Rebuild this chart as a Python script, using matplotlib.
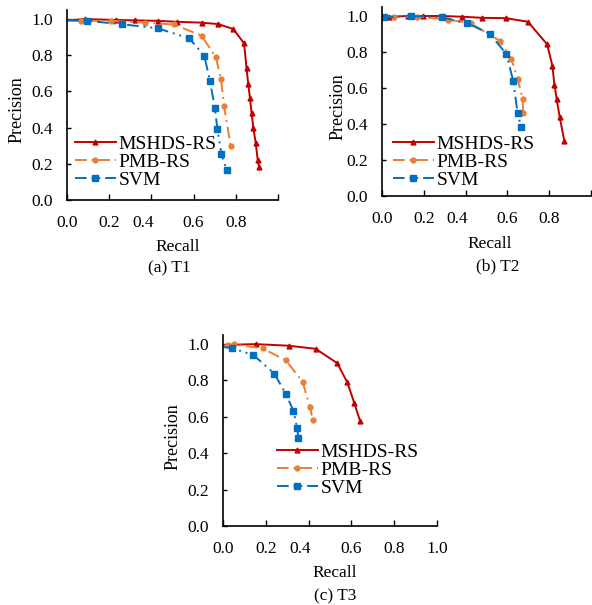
import numpy as np
import matplotlib
matplotlib.use('Agg')
import matplotlib.pyplot as plt
import matplotlib.transforms as mtransforms

plt.rcParams['font.family'] = ['Liberation Serif', 'DejaVu Serif']

W, H = 592, 605

# ---- data (recall, precision) ----
# (a) T1
t1_mshds_r = [0.0, 0.085, 0.23, 0.32, 0.43, 0.52, 0.638, 0.717, 0.788, 0.839, 0.851, 0.859, 0.867, 0.875, 0.883, 0.894, 0.904, 0.910]
t1_mshds_p = [0.993, 1.0, 0.995, 0.993, 0.99, 0.985, 0.98, 0.972, 0.945, 0.866, 0.728, 0.639, 0.565, 0.479, 0.40, 0.317, 0.221, 0.184]
t1_pmb_r = [0.0, 0.066, 0.21, 0.37, 0.507, 0.638, 0.706, 0.730, 0.744, 0.776]
t1_pmb_p = [0.99, 0.99, 0.99, 0.98, 0.97, 0.908, 0.788, 0.667, 0.519, 0.298]
t1_svm_r = [0.0, 0.096, 0.262, 0.43, 0.58, 0.651, 0.678, 0.701, 0.713, 0.732, 0.756]
t1_svm_p = [0.994, 0.99, 0.971, 0.949, 0.893, 0.796, 0.655, 0.507, 0.39, 0.253, 0.166]

# (b) T2
t2_mshds_r = [0.0, 0.035, 0.126, 0.195, 0.29, 0.384, 0.477, 0.593, 0.698, 0.79, 0.815, 0.825, 0.836, 0.850, 0.872]
t2_mshds_p = [0.993, 0.996, 1.0, 1.0, 1.0, 0.996, 0.99, 0.988, 0.968, 0.843, 0.725, 0.618, 0.537, 0.44, 0.307]
t2_pmb_r = [0.0, 0.057, 0.169, 0.314, 0.426, 0.565, 0.618, 0.649, 0.673, 0.675]
t2_pmb_p = [0.993, 0.996, 0.996, 0.98, 0.959, 0.861, 0.763, 0.65, 0.54, 0.459]
t2_svm_r = [0.0, 0.011, 0.139, 0.286, 0.408, 0.515, 0.595, 0.628, 0.649, 0.665]
t2_svm_p = [0.993, 0.993, 1.0, 0.993, 0.959, 0.902, 0.789, 0.639, 0.459, 0.385]

# (c) T3
t3_mshds_r = [0.0, 0.153, 0.308, 0.433, 0.534, 0.581, 0.614, 0.64]
t3_mshds_p = [0.995, 1.0, 0.991, 0.974, 0.895, 0.789, 0.674, 0.579]
t3_pmb_r = [0.0, 0.025, 0.053, 0.185, 0.294, 0.372, 0.407, 0.419]
t3_pmb_p = [0.99, 0.993, 0.998, 0.976, 0.911, 0.792, 0.652, 0.585]
t3_svm_r = [0.0, 0.044, 0.142, 0.24, 0.294, 0.329, 0.347, 0.352]
t3_svm_p = [0.985, 0.976, 0.94, 0.838, 0.725, 0.634, 0.537, 0.482]

series_names = ['MSHDS-RS', 'PMB-RS', 'SVM']
tick_vals = [0.0, 0.2, 0.4, 0.6, 0.8, 1.0]
RED, ORANGE, BLUE = '#C00000', '#ED7D31', '#0070C0'


def px_rect(left, right, bottom, top):
    return [left / W, 1 - bottom / H, (right - left) / W, (bottom - top) / H]


def draw_panel(ax, data, last_tick_label, leg_xy):
    (mr, mp), (pr, pp), (sr, sp) = data
    # first point is the curve start at the axis; the svm/mshds tails end without a marker
    ax.plot(mr, mp, color=RED, lw=1.4, marker='^', ms=3.5,
            markevery=list(range(1, len(mr))), label=series_names[0])
    ax.plot(pr, pp, color=ORANGE, lw=1.4, ls=(0, (6, 2.5, 1, 2.5)), marker='o', ms=3.5,
            markevery=list(range(1, len(pr))), label=series_names[1])
    ax.plot(sr, sp, color=BLUE, lw=1.4, ls=(0, (6, 2.5, 1, 2.5, 1, 2.5)), marker='s', ms=4,
            markevery=list(range(1, len(sr))), label=series_names[2])

    ax.set_xlim(0, 1.0)
    ax.set_ylim(0, 1.05)
    ax.set_xticks(tick_vals)
    labels = ['%.1f' % v for v in tick_vals]
    if not last_tick_label:
        labels[-1] = ''
    ax.set_xticklabels(labels)
    ax.set_yticks(tick_vals)
    ax.set_yticklabels(['%.1f' % v for v in tick_vals])
    for s in ['top', 'right']:
        ax.spines[s].set_visible(False)
    for s in ['left', 'bottom']:
        ax.spines[s].set_linewidth(1.2)
    ax.tick_params(axis='x', direction='in', length=4, width=1.0, pad=11, labelsize=12.5)
    ax.tick_params(axis='y', direction='in', length=3, width=1.0, pad=10, labelsize=12.5)

    # the "0.4" label sits a bit left of its tick in the original
    lab = ax.get_xticklabels()[2]
    lab.set_transform(lab.get_transform() +
                      mtransforms.ScaledTranslation(-0.08, 0, ax.figure.dpi_scale_trans))

    ax.legend(loc='upper left', bbox_to_anchor=(leg_xy[0] / W, 1 - leg_xy[1] / H),
              bbox_transform=ax.figure.transFigure, frameon=False, fontsize=14,
              handlelength=2.1, handletextpad=0.15, labelspacing=0.03,
              borderpad=0, borderaxespad=0)


fig = plt.figure(figsize=(W / 100, H / 100), dpi=100)

ax1 = fig.add_axes(px_rect(67, 278, 200, 10))
draw_panel(ax1, [(t1_mshds_r, t1_mshds_p), (t1_pmb_r, t1_pmb_p), (t1_svm_r, t1_svm_p)],
           False, (75, 135))
ax2 = fig.add_axes(px_rect(382, 591, 196, 7))
draw_panel(ax2, [(t2_mshds_r, t2_mshds_p), (t2_pmb_r, t2_pmb_p), (t2_svm_r, t2_svm_p)],
           False, (393, 135))
ax3 = fig.add_axes(px_rect(223, 437, 526, 335))
draw_panel(ax3, [(t3_mshds_r, t3_mshds_p), (t3_pmb_r, t3_pmb_p), (t3_svm_r, t3_svm_p)],
           True, (277, 443))

# axis titles and captions (pixel positions)
texts = [
    (17, 110, 'Precision', 90), (338, 107, 'Precision', 90), (173, 437, 'Precision', 90),
    (178, 247, 'Recall', 0), (490, 244, 'Recall', 0), (335, 573, 'Recall', 0),
    (169, 268, '(a) T1', 0), (498, 266, '(b) T2', 0), (335, 596, '(c) T3', 0),
]
for x, y, s, rot in texts:
    fig.text(x / W, 1 - y / H, s, ha='center', va='center', rotation=rot,
             fontsize=13 if s == 'Precision' else 12.5)

fig.savefig('out.png', dpi=100)
